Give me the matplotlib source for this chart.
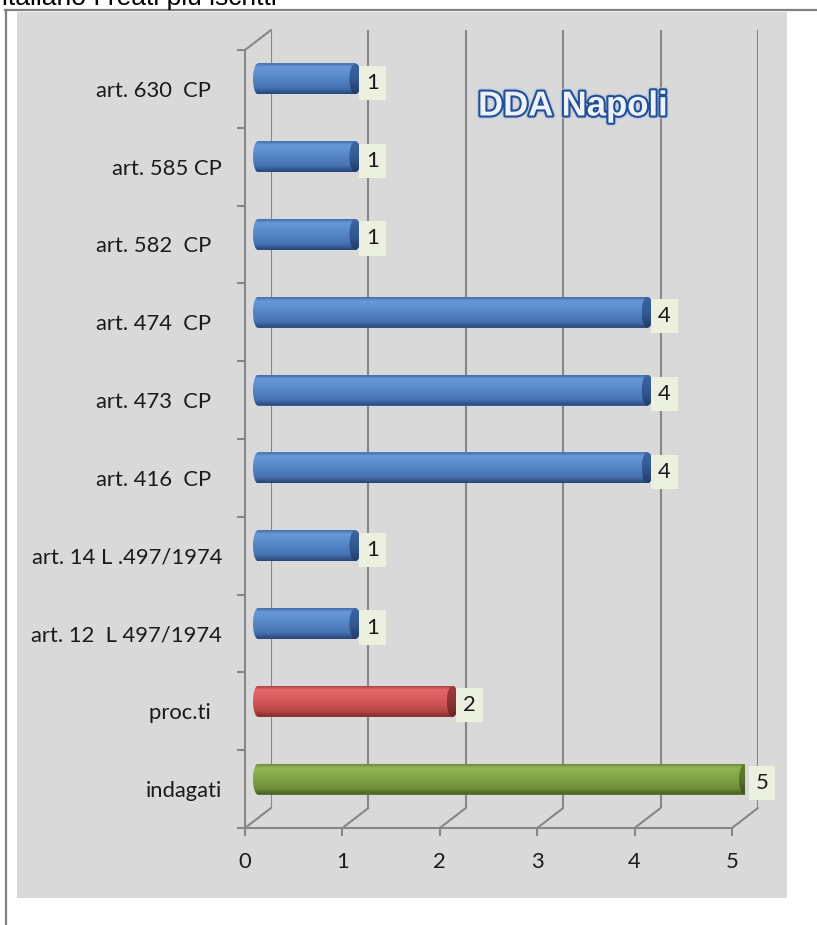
import numpy as np
import matplotlib
matplotlib.use("Agg")
import matplotlib.pyplot as plt
from matplotlib.colors import LinearSegmentedColormap
from matplotlib.path import Path
from matplotlib.patches import Rectangle, ConnectionPatch, Ellipse
from matplotlib.lines import Line2D
import matplotlib.patheffects as pe

# ---------------- data ----------------
categories = ["indagati", "proc.ti  ", "art. 12  L 497/1974", "art. 14 L .497/1974",
              "art. 416  CP  ", "art. 473  CP  ", "art. 474  CP  ", "art. 582  CP  ",
              "art. 585 CP", "art. 630  CP  "]
values = [5, 2, 1, 1, 4, 4, 4, 1, 1, 1]
bar_kinds = ["green", "red", "blue", "blue", "blue", "blue", "blue", "blue", "blue", "blue"]
x_ticks = [0, 1, 2, 3, 4, 5]
title_text = "DDA Napoli"
header_text = "italiano I reati più iscritti"

# ---------------- styling ----------------
W, H = 817, 925
GRID = "#868686"
TXT = "#1a1a1a"
FONT = "Lato"
FS = 15.8

grads = {
    "blue": [(0.0, (65, 108, 168)), (0.12, (104, 152, 216)), (0.45, (86, 136, 200)),
             (0.8, (70, 114, 178)), (1.0, (38, 68, 118))],
    "red": [(0.0, (170, 66, 66)), (0.12, (228, 104, 104)), (0.45, (214, 90, 90)),
            (0.8, (185, 70, 70)), (1.0, (125, 42, 42))],
    "green": [(0.0, (108, 138, 55)), (0.12, (146, 180, 86)), (0.45, (130, 164, 70)),
              (0.8, (110, 140, 55)), (1.0, (68, 88, 34))],
}
caps = {
    "blue": [(0.0, (60, 100, 160)), (0.5, (52, 90, 148)), (1.0, (34, 60, 104))],
    "red": [(0.0, (160, 60, 60)), (0.5, (145, 52, 52)), (1.0, (108, 36, 36))],
    "green": [(0.0, (98, 126, 50)), (0.5, (88, 114, 44)), (1.0, (62, 80, 30))],
}


def make_cmap(stops):
    return LinearSegmentedColormap.from_list(
        "g", [(t, tuple(c / 255 for c in col)) for t, col in stops])


fig = plt.figure(figsize=(W / 100, H / 100), dpi=100)
fig.patch.set_facecolor("white")


def box(x0, y0, w, h):
    return [x0 / W, 1 - (y0 + h) / H, w / W, h / H]


# background panel and frame
fig.add_artist(Rectangle((17 / W, 1 - 898 / H), (787 - 17) / W, (898 - 12) / H,
                         transform=fig.transFigure, facecolor="#d9d9d9",
                         edgecolor="none", zorder=0))
fig.add_artist(Line2D([5.5 / W, 5.5 / W], [0, 1 - 10 / H], transform=fig.transFigure,
                      color="#808080", lw=1.6, zorder=1))
fig.add_artist(Line2D([5 / W, 1], [1 - 10 / H, 1 - 10 / H], transform=fig.transFigure,
                      color="#808080", lw=1.6, zorder=1))
fig.text(2 / W, 1 - 5 / H, header_text, fontsize=19, family="Liberation Sans",
         color="black", va="baseline", ha="left")

X0, Y_TOP, SPAN_X, SPAN_Y = 245, 50, 487, 778
DX, DY = 26, 20  # depth offset of the back wall
UNIT = SPAN_X / 5.0

# back wall gridlines
back = fig.add_axes(box(X0 + DX, Y_TOP - DY, SPAN_X, SPAN_Y))
back.set_xlim(0, 5)
back.set_ylim(-0.5, 9.5)
back.axis("off")
back.patch.set_visible(False)
back.vlines(x_ticks, -0.5, 9.5, color=GRID, lw=1.5)
back.set_zorder(1)

# front axes (ticks, labels)
front = fig.add_axes(box(X0, Y_TOP, SPAN_X, SPAN_Y))
front.set_zorder(2)
front.patch.set_visible(False)
front.set_xlim(0, 5)
front.set_ylim(-0.5, 9.5)
for s in ["top", "right"]:
    front.spines[s].set_visible(False)
for s in ["left", "bottom"]:
    front.spines[s].set_color(GRID)
    front.spines[s].set_linewidth(1.5)
front.set_xticks(x_ticks)
front.set_xticklabels([str(t) for t in x_ticks], fontsize=FS, family=FONT, color=TXT)
front.tick_params(axis="x", length=6, width=1.5, color=GRID, pad=11)
front.set_yticks(range(len(categories)))
front.set_yticklabels(categories, fontsize=FS, family=FONT, color=TXT)
front.set_yticks(np.arange(-0.5, len(categories), 1), minor=True)
front.tick_params(axis="y", which="major", length=0, pad=23 * 72 / 100)
front.tick_params(axis="y", which="minor", length=6, width=1.5, color=GRID)

# diagonals connecting front and back planes
for k in x_ticks:
    fig.add_artist(ConnectionPatch(xyA=(k, -0.5), coordsA=front.transData,
                                   xyB=(k, -0.5), coordsB=back.transData,
                                   color=GRID, lw=1.5, zorder=1))
fig.add_artist(ConnectionPatch(xyA=(0, 9.5), coordsA=front.transData,
                               xyB=(0, 9.5), coordsB=back.transData,
                               color=GRID, lw=1.5, zorder=1))

# bars (middle depth); x-range extended a little left so rounded ends show
XL = -0.1
bars = fig.add_axes(box(X0 + DX / 2 + XL * UNIT, Y_TOP - DY / 2, SPAN_X - XL * UNIT, SPAN_Y))
bars.set_zorder(3)
bars.patch.set_visible(False)
bars.axis("off")

BAR_H = 31 / (SPAN_Y / 10.0)
RX = 5 / UNIT
grad_img = np.linspace(0, 1, 128).reshape(-1, 1)

for i, (v, kind) in enumerate(zip(values, bar_kinds)):
    y0, y1 = i - BAR_H / 2, i + BAR_H / 2
    base = tuple(c / 255 for c in grads[kind][2][1])
    bars.barh(i, v, height=BAR_H, left=0, color=base, zorder=2)
    # cylinder body: left rounded end + rectangle
    th = np.linspace(np.pi / 2, 3 * np.pi / 2, 40)
    verts = [(RX * np.cos(t), i + BAR_H / 2 * np.sin(t)) for t in th]
    verts += [(v, y0), (v, y1), verts[0]]
    path = Path(verts, [Path.MOVETO] + [Path.LINETO] * (len(verts) - 2) + [Path.CLOSEPOLY])
    im = bars.imshow(grad_img, extent=(-RX, v, y0, y1), aspect="auto",
                     cmap=make_cmap(grads[kind]), origin="upper", zorder=3,
                     interpolation="bilinear")
    im.set_clip_path(path, bars.transData)
    # right end cap
    ell = Ellipse((v, i), 2 * RX * 1.2, BAR_H, transform=bars.transData)
    im2 = bars.imshow(grad_img, extent=(v - RX * 1.2, v + RX * 1.2, y0, y1), aspect="auto",
                      cmap=make_cmap(caps[kind]), origin="upper", zorder=4,
                      interpolation="bilinear")
    im2.set_clip_path(ell)
    # value label
    bars.annotate(str(v), xy=(v, i), xytext=(17, -4), textcoords="offset pixels",
                  ha="center", va="center", fontsize=FS, family=FONT, color=TXT,
                  zorder=6,
                  bbox=dict(boxstyle="square,pad=0.32", fc="#ebf1de", ec="none"))

bars.set_xlim(XL, 5)
bars.set_ylim(-0.5, 9.5)

# title inside chart
fig.text(573 / W, 1 - 106 / H, title_text, fontsize=25, family="Liberation Sans",
         weight="bold", color="#eef1f6", ha="center", va="center", zorder=10,
         path_effects=[pe.withStroke(linewidth=5, foreground="#b8c4d4", alpha=0.6),
                       pe.withStroke(linewidth=3.0, foreground="#1f4e9a")])

fig.savefig("out.png", dpi=100)
